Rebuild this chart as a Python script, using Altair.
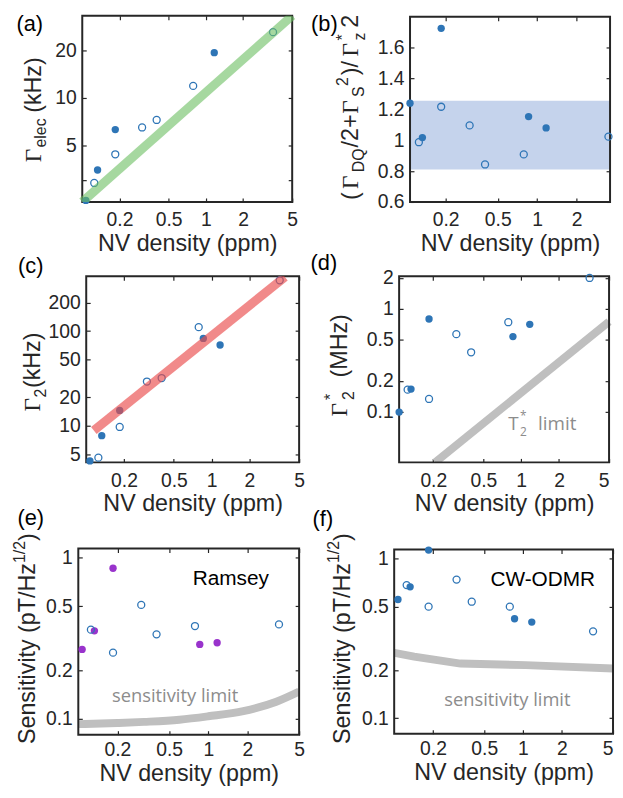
import altair as alt
import pandas as pd

# ---------------- values ----------------
density = [0.107, 0.125, 0.133, 0.185, 0.185, 0.305, 0.40, 0.79, 0.86, 1.17, 3.5]
filled = [True, False, True, True, False, False, False, False, True, True, False]
gamma_elec = [2.25, 2.9, 3.5, 6.3, 4.4, 6.5, 7.25, 11.9, None, 19.3, 26.0]
ratio = [1.24, 0.987, 1.017, 1.725, 1.217, 1.096, 0.843, 0.908, 1.153, 1.08, 1.023]
gamma2 = [4.25, 4.6, 7.85, 14.5, 9.7, 29.3, 31.9, 110.0, 83.6, 71.2, 344.0]
gamma2_star = [0.100, 0.165, 0.167, 0.80, 0.134, 0.57, 0.38, 0.744, 0.54, 0.71, 2.0]
sens_ramsey = [0.27, 0.358, 0.352, 0.86, 0.258, 0.51, 0.335, 0.377, 0.29, 0.297, 0.386]
sens_cw = [0.554, 0.682, 0.665, 1.13, 0.50, 0.739, 0.537, 0.50, 0.42, 0.40, 0.35]

elec_fit_x = [0.1, 5.0]
elec_fit_y = [2.2, 33.0]
g2_fit_x = [0.115, 3.85]
g2_fit_y = [8.9, 373.0]
band_low = [0.81]
band_high = [1.255]
t2_limit_x = [0.207, 5.0]
t2_limit_y = [0.0325, 0.755]
ramsey_limit_x = [0.1, 0.2, 0.32, 0.6, 1.0, 1.86, 3.34, 5.0]
ramsey_limit_y = [0.093, 0.0945, 0.096, 0.099, 0.104, 0.112, 0.128, 0.148]
cw_limit_x = [0.1, 0.143, 0.327, 1.05, 5.0]
cw_limit_y = [0.257, 0.243, 0.220, 0.215, 0.205]

x_ticks = [0.2, 0.5, 1, 2, 5]
x_tick_labels = ["0.2", "0.5", "1", "2", "5"]
xb_ticks = [0.2, 0.5, 1, 2]
xb_tick_labels = ["0.2", "0.5", "1", "2"]
ya_ticks = [3, 5, 10, 20]
ya_tick_labels = ["", "5", "10", "20"]
yb_ticks = [0.6, 0.8, 1.0, 1.2, 1.4, 1.6]
yb_tick_labels = ["0.6", "0.8", "1", "1.2", "1.4", "1.6"]
yc_ticks = [5, 10, 20, 50, 100, 200]
yc_tick_labels = ["5", "10", "20", "50", "100", "200"]
yd_ticks = [0.1, 0.2, 0.5, 1, 2]
yd_tick_labels = ["0.1", "0.2", "0.5", "1", "2"]
ye_ticks = [0.1, 0.2, 0.5, 1]
ye_tick_labels = ["0.1", "0.2", "0.5", "1"]

x_title = "NV density (ppm)"

# ---------------- style ----------------
FONT = "Liberation Sans"
SERIF = "Liberation Serif"
ANNOT = "Open Sans"
INK = "#262626"
BLUE = "#2E75B6"
PURPLE = "#9933CC"
LIMIT = "#BFBFBF"
LIMIT_TXT = "#8C8C8C"
TICK = 4
LAB = 19.5
TIT = 23.5
SUB = 16

AW = {' ': 278, '(': 333, ')': 333, '/': 278, '+': 584, '-': 333, '.': 278, '*': 389,
      'A': 667, 'C': 722, 'D': 722, 'H': 722, 'M': 833, 'N': 722, 'O': 778, 'Q': 778,
      'R': 722, 'S': 667, 'T': 611, 'V': 667, 'W': 944,
      'a': 556, 'c': 500, 'd': 556, 'e': 556, 'i': 222, 'k': 500, 'l': 222, 'm': 833,
      'n': 556, 'p': 556, 's': 500, 't': 278, 'v': 500, 'y': 500, 'z': 500}


def tw(s, size, serif=False):
    if serif:
        return 0.6 * size * len(s)
    return sum(AW.get(c, 556) for c in s) * size / 1000.0


def txt(s, x, y, size, font=FONT, color=INK, angle=0, align="left", baseline="alphabetic"):
    return alt.Chart(pd.DataFrame({"s": [s]})).mark_text(
        font=font, fontSize=size, color=color, angle=angle, align=align, baseline=baseline
    ).encode(text="s:N", x=alt.value(x), y=alt.value(y))


def ytitle_at(pieces, bx):
    # pieces: (text, size, serif, shift, start position along the rotated line)
    return [txt(t, bx + shift, y0, size, SERIF if serif else FONT, angle=270)
            for t, size, serif, shift, y0 in pieces]


def ytitle(pieces, bx, cy):
    total = sum(tw(t, size, serif) for t, size, serif, shift in pieces)
    y = cy + total / 2
    out = []
    for t, size, serif, shift in pieces:
        out.append((t, size, serif, shift, y))
        y -= tw(t, size, serif)
    return ytitle_at(out, bx)


def label_expr(vals, labels):
    s = ""
    for v, l in zip(vals, labels):
        s += f"abs(datum.value - {v}) < {abs(v) * 1e-6} ? '{l}' : "
    return s + "''"


def panel(vals, fill_color, g, xdom, ydom, ytype, xt, xtl, ytv, ytl, lab_pad, title_y, flush,
          under=(), over=(), annots=(), label=None, title_layers=(), anchor=False):
    W, H, xl, xr, yt, yb = g
    xs = alt.Scale(type="log", domain=xdom, range=[xl, xr], nice=False)
    ys = alt.Scale(type=ytype, domain=ydom, range=[yb, yt], nice=False, zero=False)

    def line(xv, yv, color, width, opacity, interp):
        return alt.Chart(pd.DataFrame({"x": xv, "y": yv})).mark_line(
            color=color, strokeWidth=width, opacity=opacity, clip=True, strokeCap="butt",
            interpolate=interp
        ).encode(x=alt.X("x:Q", scale=xs, axis=None), y=alt.Y("y:Q", scale=ys, axis=None))

    df = pd.DataFrame({"d": density, "v": vals, "f": filled})
    base = alt.Chart(df)
    common = dict(tickSize=TICK, tickWidth=1.2, tickColor=INK, domain=False, grid=False,
                  labelFont=FONT, labelFontSize=LAB, labelColor=INK, labelOverlap=False)
    bottom = alt.Axis(orient="bottom", values=xt, labelExpr=label_expr(xt, xtl),
                      offset=-(H - yb) - TICK, labelPadding=lab_pad, labelBaseline="alphabetic",
                      labelFlush=flush, title=x_title, titleFont=FONT, titleFontSize=TIT,
                      titleFontWeight="normal", titleColor=INK, titleY=title_y,
                      titleBaseline="alphabetic", **common)
    left = alt.Axis(orient="left", values=ytv, labelExpr=label_expr(ytv, ytl),
                    offset=-xl - TICK, labelPadding=6, labelFlush=False, title=None, **common)
    top = alt.Axis(orient="top", values=xt, labels=False, offset=-yt - TICK, title=None, **common)
    right = alt.Axis(orient="right", values=ytv, labels=False, offset=-(W - xr) - TICK,
                     title=None, **common)

    layers = []
    for spec in under:
        if spec[0] == "band":
            layers.append(alt.Chart(pd.DataFrame({"lo": spec[1], "hi": spec[2]})).mark_rect(
                color="#C5D3EC").encode(x=alt.value(xl), x2=alt.value(xr),
                                        y=alt.Y("lo:Q", scale=ys, axis=None), y2="hi:Q"))
        else:
            layers.append(line(*spec[1:]))
    layers += list(annots)
    layers.append(alt.Chart(pd.DataFrame({"z": [0]})).mark_rect(
        fillOpacity=0, stroke=INK, strokeWidth=2).encode(
        x=alt.value(xl), x2=alt.value(xr), y=alt.value(yt), y2=alt.value(yb)))
    layers.append(base.transform_filter("datum.f").mark_circle(
        size=55, opacity=1, color=fill_color).encode(
        x=alt.X("d:Q", scale=xs, axis=bottom), y=alt.Y("v:Q", scale=ys, axis=left)))
    layers.append(base.transform_filter("!datum.f").mark_point(
        shape="circle", filled=False, size=50, strokeWidth=1.3, color=BLUE, opacity=1).encode(
        x=alt.X("d:Q", scale=xs, axis=None), y=alt.Y("v:Q", scale=ys, axis=None)))
    layers.append(base.mark_point(opacity=0).encode(
        x=alt.X("d:Q", scale=xs, axis=top), y=alt.Y("v:Q", scale=ys, axis=right)))
    for spec in over:
        layers.append(line(*spec[1:]))
    layers += list(title_layers)
    if label is not None:
        layers.append(txt(label[0], label[1], label[2], 22, align="center", baseline="middle",
                          color="#000000"))
    if anchor:
        # invisible corner marker fixing the figure's top-left reference point
        layers.append(alt.Chart(pd.DataFrame({"z": [0]})).mark_rule(
            color="white", opacity=0, strokeWidth=0.5).encode(
            x=alt.value(-71), y=alt.value(-4), y2=alt.value(10)))
    return alt.layer(*layers).properties(width=W, height=H)


# geometry of each cell: width, height, box left, box right, box top, box bottom
GA = (223, 188, 4, 216, 0, 188)
GB = (221, 188, 16, 218, 1, 188)
GC = (223, 188, 8, 223, 0, 188)
GD = (221, 188, 5, 217, 0, 188)
GE = (223, 200, 0, 223, 12, 200)
GF = (221, 200, 0, 221, 13, 199)

pa = panel(gamma_elec, BLUE, GA, [0.1, 5], [2.2, 33], "log", x_ticks, x_tick_labels,
           ya_ticks, ya_tick_labels, 24, 53, False,
           over=[("line", elec_fit_x, elec_fit_y, "#6BBE61", 9, 0.6, "linear")],
           label=("(a)", -49, 8), anchor=True,
           title_layers=ytitle_at([("Γ", TIT, True, 0, 148), ("elec", SUB, False, 5.5, 133),
                                   ("(kHz)", TIT, False, 0, 98)], -38))

pb = panel(ratio, BLUE, GB, [0.107, 3.6], [0.6, 1.8], "linear", xb_ticks, xb_tick_labels,
           yb_ticks, yb_tick_labels, 24, 53, True,
           under=[("band", band_low, band_high)],
           label=("(b)", -70.5, 8),
           title_layers=ytitle_at([("(", TIT, False, 0, 186), ("Γ", TIT, True, 0, 175),
                                   ("DQ", SUB, False, 7, 158), ("/2+", TIT, False, 0, 133),
                                   ("Γ", TIT, True, 0, 99), ("S", SUB, False, 7, 82),
                                   ("2", SUB, False, -10, 71), (")/", TIT, False, 0, 60),
                                   ("Γ", TIT, True, 0, 41), ("*", SUB, False, -10, 25),
                                   ("z", SUB, False, 8, 25), ("2", TIT, False, 0, 12)], -37))

pc = panel(gamma2, BLUE, GC, [0.1, 5], [4.1, 380], "log", x_ticks, x_tick_labels,
           yc_ticks, yc_tick_labels, 24, 53, False,
           over=[("line", g2_fit_x, g2_fit_y, "#EA4C4C", 9, 0.65, "linear")],
           label=("(c)", -48, -10),
           title_layers=ytitle_at([("Γ", TIT, True, 0, 136.7), ("2", SUB, False, 6, 122.6),
                                   ("(kHz)", TIT, False, 0, 113)], -39))

t2_annot = [txt("T", 115.3, 155, 19, ANNOT, LIMIT_TXT),
            txt("2", 127, 161, 12, ANNOT, LIMIT_TXT),
            txt("*", 127, 145, 12, ANNOT, LIMIT_TXT),
            txt("limit", 145.3, 155, 19, ANNOT, LIMIT_TXT)]
pd_ = panel(gamma2_star, BLUE, GD, [0.107, 5], [0.0325, 2.08], "log", x_ticks, x_tick_labels,
            yd_ticks, yd_tick_labels, 24, 53, True,
            under=[("line", t2_limit_x, t2_limit_y, LIMIT, 8, 1, "linear")],
            annots=t2_annot, label=("(d)", -71, -13),
            title_layers=ytitle_at([("Γ", TIT, True, 0, 141.7), ("*", SUB, False, -11, 125),
                                    ("2", SUB, False, 7, 125), ("(MHz)", TIT, False, 0, 102.2)],
                                   -48))

sens_title = [("Sensitivity (pT/Hz", TIT, False, 0), ("1/2", SUB, False, -10.5),
              (")", TIT, False, 0)]
pe = panel(sens_ramsey, PURPLE, GE, [0.1, 5], [0.08, 1.14], "log", x_ticks, x_tick_labels,
           ye_ticks, ye_tick_labels, 21, 50, False,
           under=[("line", ramsey_limit_x, ramsey_limit_y, LIMIT, 8, 1, "monotone")],
           annots=[txt("sensitivity limit", 97.8, 167, 18.5, ANNOT, LIMIT_TXT, align="center"),
                   txt("Ramsey", 154, 43, 21, FONT, "#000000", align="center", baseline="middle")],
           label=("(e)", -48, -19),
           title_layers=ytitle(sens_title, -43.5, 103))

pf = panel(sens_cw, BLUE, GF, [0.1, 5], [0.08, 1.14], "log", x_ticks, x_tick_labels,
           ye_ticks, ye_tick_labels, 21, 50, True,
           under=[("line", cw_limit_x, cw_limit_y, LIMIT, 8, 1, "linear")],
           annots=[txt("sensitivity limit", 114.3, 171, 18.5, ANNOT, LIMIT_TXT, align="center"),
                   txt("CW-ODMR", 150, 43.7, 21, FONT, "#000000", align="center",
                       baseline="middle")],
           label=("(f)", -72, -18),
           title_layers=ytitle(sens_title, -45, 103))

chart = alt.concat(pa, pb, pc, pd_, pe, pf, columns=2, spacing={"row": 75, "column": 96},
                   bounds="flush", align="each").properties(padding=0).configure_view(stroke=None)

chart.save("out.html", embed_options={"renderer": "svg", "actions": False})
